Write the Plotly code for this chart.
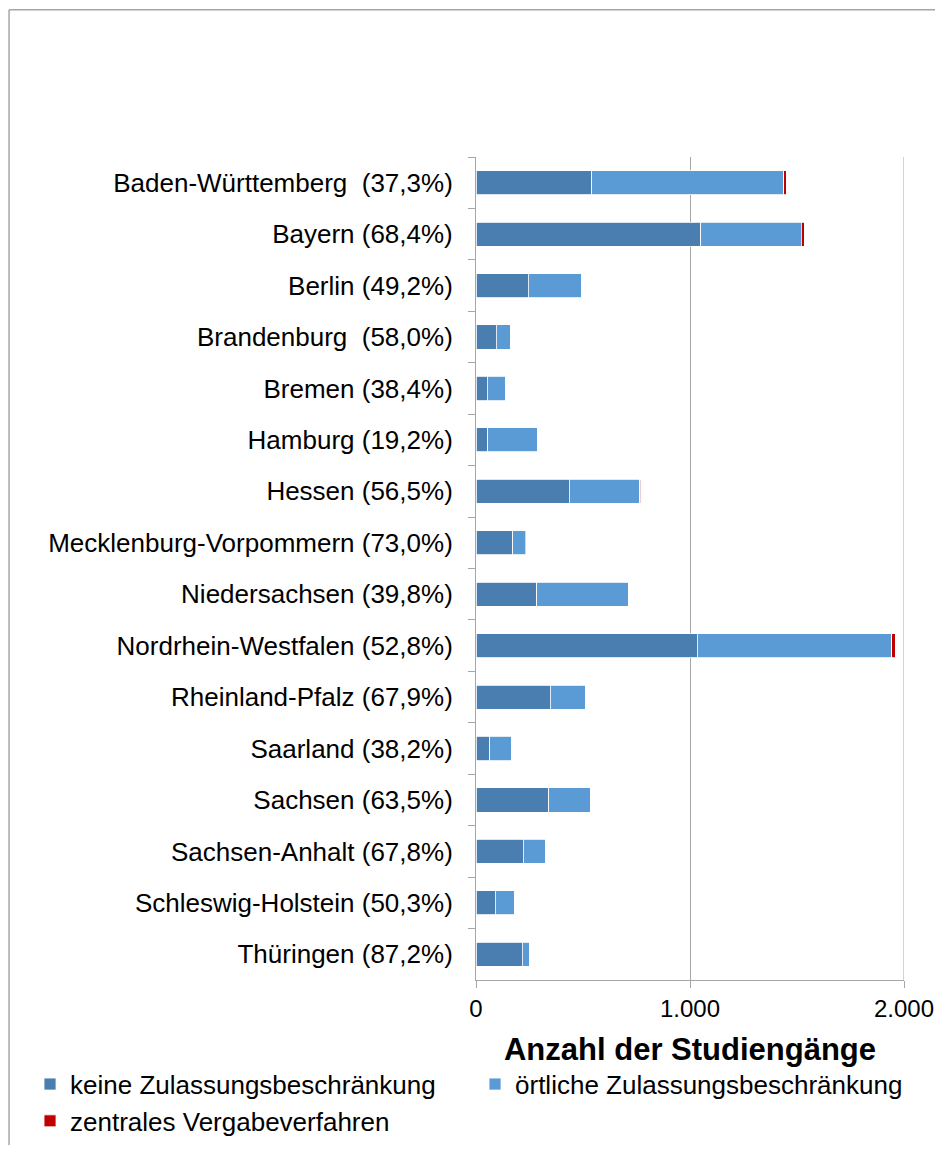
import plotly.graph_objects as go

# Daten
laender = [
    "Baden-Württemberg  (37,3%)", "Bayern (68,4%)", "Berlin (49,2%)",
    "Brandenburg  (58,0%)", "Bremen (38,4%)", "Hamburg (19,2%)",
    "Hessen (56,5%)", "Mecklenburg-Vorpommern (73,0%)", "Niedersachsen (39,8%)",
    "Nordrhein-Westfalen (52,8%)", "Rheinland-Pfalz (67,9%)", "Saarland (38,2%)",
    "Sachsen (63,5%)", "Sachsen-Anhalt (67,8%)", "Schleswig-Holstein (50,3%)",
    "Thüringen (87,2%)",
]
keine = [540, 1050, 243, 94, 53, 55, 435, 171, 283, 1033, 346, 64, 341, 221, 91, 216]
oertlich = [897, 470, 251, 68, 85, 232, 330, 60, 428, 910, 164, 103, 196, 105, 90, 32]
zentral = [12, 13, 0, 0, 0, 0, 6, 3, 0, 15, 0, 0, 0, 0, 0, 0]

serien = [
    ("keine Zulassungsbeschränkung", keine, "#4A7EB0"),
    ("örtliche Zulassungsbeschränkung", oertlich, "#5B9BD5"),
    ("zentrales Vergabeverfahren", zentral, "#C00000"),
]

fig = go.Figure()
for name, werte, farbe in serien:
    fig.add_trace(go.Bar(
        y=laender, x=werte, name=name, orientation="h",
        marker=dict(color=farbe, line=dict(color="white", width=0.8)),
    ))

grau = "#A6A6A6"
# Seite hat 8px Rand im Browser -> Figur etwas kleiner, Ränder angepasst
fig.update_layout(
    barmode="stack",
    bargap=0.53,
    width=927, height=1137,
    margin=dict(l=468, r=31, t=149, b=165, autoexpand=False),
    paper_bgcolor="white", plot_bgcolor="white",
    font=dict(family="Liberation Sans, Arial, sans-serif", size=26, color="black"),
    showlegend=True,
    legend=dict(
        orientation="h", x=-1.042, xanchor="left", y=-0.098, yanchor="top",
        entrywidth=400, entrywidthmode="pixels", traceorder="normal",
        font=dict(size=26), itemwidth=30, tracegroupgap=0,
    ),
    xaxis=dict(
        range=[0, 2000], tickvals=[0, 1000, 2000],
        ticktext=["0", "1.000", "2.000"], tickfont=dict(size=24),
        showgrid=True, gridcolor=grau, gridwidth=1,
        showline=True, linecolor=grau, linewidth=1,
        ticks="outside", ticklen=7, tickcolor=grau,
        zeroline=False, ticklabelstandoff=0, ticklabeloverflow="allow",
        title=dict(text="<b>Anzahl der Studiengänge</b>", standoff=17),
    ),
    yaxis=dict(
        autorange="reversed", type="category",
        showline=True, linecolor=grau, linewidth=1,
        ticks="outside", ticklen=7, tickcolor=grau, tickson="boundaries",
        showgrid=False, ticklabelstandoff=17,
    ),
)

# Gitterlinie am rechten Rand (wird von Plotly am Rand nicht gezeichnet)
fig.add_shape(type="line", xref="x", yref="paper", x0=2000, x1=2000, y0=0, y1=1,
              line=dict(color=grau, width=1), layer="below")

# Rahmen des Diagrammbereichs (oben und links sichtbar)
fig.add_shape(type="line", xref="paper", yref="paper",
              x0=-1.091, x1=1.2, y0=1.179, y1=1.179,
              line=dict(color=grau, width=1.5))
fig.add_shape(type="line", xref="paper", yref="paper",
              x0=-1.091, x1=-1.091, y0=1.179, y1=-0.3,
              line=dict(color=grau, width=1.5))

fig.write_html("out.html")
